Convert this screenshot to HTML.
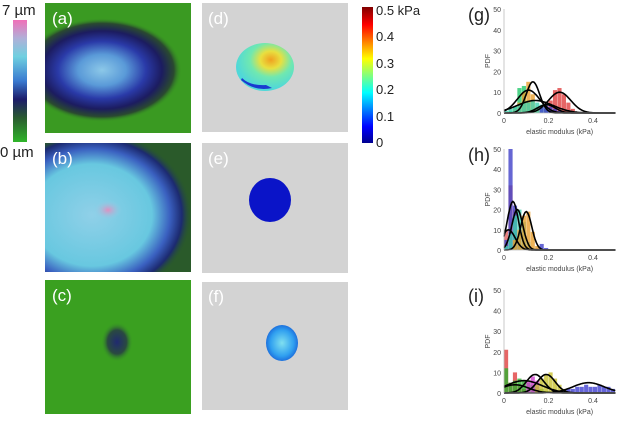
<!DOCTYPE html>
<html><head><meta charset="utf-8"><style>
body{margin:0;width:622px;height:422px;background:#fff;overflow:hidden;font-family:"Liberation Sans",sans-serif}
svg{position:absolute;left:0;top:0}
</style></head><body>
<svg width="622" height="422">
<defs>
<clipPath id="ca"><rect x="45" y="3" width="146" height="130"/></clipPath>
<clipPath id="cb"><rect x="45" y="143" width="146" height="129"/></clipPath>
<linearGradient id="hbar" x1="0" y1="1" x2="0" y2="0">
<stop offset="0" stop-color="#2fb52a"/><stop offset="0.2" stop-color="#2a5a30"/><stop offset="0.35" stop-color="#1c1c6a"/><stop offset="0.5" stop-color="#3a7ad0"/><stop offset="0.7" stop-color="#6fd0e0"/><stop offset="0.85" stop-color="#b0b0d8"/><stop offset="1" stop-color="#f070b8"/></linearGradient>
<linearGradient id="kbar" x1="0" y1="1" x2="0" y2="0">
<stop offset="0" stop-color="#00008f"/><stop offset="0.12" stop-color="#0000ff"/><stop offset="0.37" stop-color="#00ffff"/><stop offset="0.62" stop-color="#ffff00"/><stop offset="0.87" stop-color="#ff0000"/><stop offset="1" stop-color="#800000"/></linearGradient>
<radialGradient id="ga" cx="0.5" cy="0.5" r="0.5"><stop offset="0" stop-color="#8cc8e8"/><stop offset="0.3" stop-color="#5a9ad8"/><stop offset="0.55" stop-color="#2a3aa8"/><stop offset="0.75" stop-color="#1c1c60"/><stop offset="0.9" stop-color="#2a4a30"/><stop offset="1" stop-color="#3a9a22" stop-opacity="0"/></radialGradient>
<radialGradient id="gb" cx="0.5" cy="0.5" r="0.5"><stop offset="0" stop-color="#90d0e8"/><stop offset="0.6" stop-color="#68c8e0"/><stop offset="0.78" stop-color="#3a60c0"/><stop offset="0.9" stop-color="#1c2a70"/><stop offset="1" stop-color="#2a5a2a" stop-opacity="0"/></radialGradient>
<radialGradient id="gp" cx="0.5" cy="0.5" r="0.5"><stop offset="0" stop-color="#e090c0"/><stop offset="1" stop-color="#90d0e8" stop-opacity="0"/></radialGradient>
<radialGradient id="gc" cx="0.5" cy="0.5" r="0.5"><stop offset="0" stop-color="#202a70"/><stop offset="0.6" stop-color="#2a4a40"/><stop offset="1" stop-color="#3aa020" stop-opacity="0"/></radialGradient>
<radialGradient id="gd" cx="0.6" cy="0.35" r="0.6"><stop offset="0" stop-color="#f0a020"/><stop offset="0.3" stop-color="#e8e040"/><stop offset="0.6" stop-color="#70e8b0"/><stop offset="1" stop-color="#50d8d8"/></radialGradient>
<radialGradient id="gf" cx="0.5" cy="0.5" r="0.6"><stop offset="0" stop-color="#80e0f0"/><stop offset="0.6" stop-color="#30a0f0"/><stop offset="1" stop-color="#1050d0"/></radialGradient>
</defs>
<g>
<rect x="13" y="20" width="14" height="122" fill="url(#hbar)"/>
<text x="2" y="15" font-size="15" fill="#222">7 µm</text>
<text x="0" y="157" font-size="15" fill="#222">0 µm</text>
</g>
<g clip-path="url(#ca)">
<rect x="45" y="3" width="146" height="130" fill="#3a9a22"/>
<ellipse cx="102" cy="70" rx="80" ry="52" fill="url(#ga)"/>
<text x="52" y="24" font-size="17" fill="#fff">(a)</text></g>
<g clip-path="url(#cb)">
<rect x="45" y="143" width="146" height="129" fill="#2a5a2a"/>
<ellipse cx="92" cy="215" rx="100" ry="85" fill="url(#gb)"/>
<ellipse cx="108" cy="210" rx="14" ry="10" fill="url(#gp)"/>
<text x="52" y="164" font-size="17" fill="#fff">(b)</text></g>
<g>
<rect x="45" y="280" width="146" height="134" fill="#3aa020"/>
<ellipse cx="117" cy="342" rx="16" ry="20" fill="url(#gc)"/>
<text x="52" y="301" font-size="17" fill="#fff">(c)</text></g>
<g>
<rect x="202" y="3" width="146" height="129" fill="#d3d3d3"/>
<ellipse cx="265" cy="67" rx="29" ry="24" fill="url(#gd)"/>
<path d="M241 80 Q255 92 272 88 L266 85 Q250 86 242 78Z" fill="#1a3ad0"/>
<text x="208" y="24" font-size="17" fill="#fff">(d)</text></g>
<g>
<rect x="202" y="143" width="146" height="130" fill="#d3d3d3"/>
<ellipse cx="270" cy="200" rx="21" ry="22" fill="#0a14c8"/>
<text x="208" y="164" font-size="17" fill="#fff">(e)</text></g>
<g>
<rect x="202" y="282" width="146" height="128" fill="#d3d3d3"/>
<ellipse cx="282" cy="343" rx="16" ry="18" fill="url(#gf)"/>
<text x="208" y="302" font-size="17" fill="#fff">(f)</text></g>
<g>
<rect x="362" y="7" width="11" height="136" fill="url(#kbar)"/>
<g font-size="13" fill="#222">
<text x="376" y="15">0.5 kPa</text><text x="376" y="41">0.4</text><text x="376" y="68">0.3</text>
<text x="376" y="94">0.2</text><text x="376" y="121">0.1</text><text x="376" y="147">0</text></g></g>
<g id="hists"></g>
</svg>
<script>
const binW = 0.02;
const gSeries = [
 {color:"#22c86a", bins:[0,1,3,12,13,6,2,0]},
 {color:"#e8a030", bins:[0,0,2,5,10,15,9,3,0]},
 {color:"#e04040", bins:[0,0,0,0,0,0,0,0,0,2,6,11,12,9,5,2,0]},
 {color:"#40d0b0", bins:[1,2,3,4,5,5,6,5,4,2,1]},
 {color:"#4040c8", bins:[0,0,0,0,0,0,0,0,3,4,3,2,1]}
];
const gFits = [[0.13,0.03,15],[0.25,0.05,10],[0.11,0.05,11],[0.14,0.08,6],[0.19,0.04,4]];
const hSeries = [
 {color:"#e06060", bins:[10,32,20,8,2]},
 {color:"#4040c8", bins:[5,50,22,6,2,0,1,1,3,1]},
 {color:"#40d0b0", bins:[2,8,17,20,14,4,1]},
 {color:"#e8a030", bins:[0,0,5,10,17,19,9,2]}
];
const hFits = [[0.04,0.025,24],[0.06,0.025,20],[0.1,0.025,19],[0.02,0.03,10]];
const iSeries = [
 {color:"#e04040", bins:[21,5,10,4,2]},
 {color:"#30b030", bins:[12,5,6,7,6,5,4,3,2,1]},
 {color:"#d040d0", bins:[0,0,0,0,0,6,8,6]},
 {color:"#c8c030", bins:[0,0,0,0,0,0,0,4,7,9,10,7,4,2]},
 {color:"#4040d0", bins:[0,0,0,0,0,0,0,0,0,0,0,0,0,1,2,2,3,3,4,3,3,4,3,3,2]}
];
const iFits = [[0.38,0.07,5],[0.19,0.04,9],[0.14,0.04,9],[0.09,0.08,6],[0.05,0.06,4]];
const yTicks = [0,10,20,30,40,50];
const xTicks = [0,0.2,0.4];
const panels = [
 {label:"(g)", y0:113, y50:9, series:gSeries, fits:gFits},
 {label:"(h)", y0:250, y50:149, series:hSeries, fits:hFits},
 {label:"(i)", y0:393, y50:290, series:iSeries, fits:iFits}
];
const NS="http://www.w3.org/2000/svg";
const root=document.getElementById('hists');
const X0=504, X04=593;
function mk(t,a,p){const e=document.createElementNS(NS,t);for(const k in a)e.setAttribute(k,a[k]);(p||root).appendChild(e);return e;}
panels.forEach((P,pi)=>{
 const sx=v=>X0+v*(X04-X0)/0.4, sy=v=>P.y0+v*(P.y50-P.y0)/50;
 const g=mk('g',{});
 
 
 const lt=mk('text',{x:sx(0)-36,y:sy(50)+12,'font-size':18,fill:'#222'},g);lt.textContent=P.label;
 
 P.series.forEach(s=>{s.bins.forEach((b,i)=>{if(!b)return;
  const r=mk('rect',{x:sx(i*binW),y:sy(b),width:sx(binW)-sx(0)-0.3,height:sy(0)-sy(b),fill:s.color,opacity:0.8},g);
  });});
 P.fits.forEach(f=>{let d='';for(let v=0;v<=0.5001;v+=0.005){const y=f[2]*Math.exp(-((v-f[0])**2)/(2*f[1]*f[1]));d+=(v?'L':'M')+sx(v).toFixed(1)+' '+sy(y).toFixed(1);}
  const p=mk('path',{d:d,fill:'none',stroke:'#000','stroke-width':1.6},g);
  });
 mk('line',{x1:sx(0),y1:sy(0),x2:sx(0.5),y2:sy(0),stroke:'#bbb','stroke-width':0.8},g);
 mk('line',{x1:sx(0),y1:sy(0),x2:sx(0),y2:sy(50),stroke:'#bbb','stroke-width':0.8},g);
 yTicks.forEach(t=>{const e=mk('text',{x:sx(0)-3,y:sy(t)+3,'font-size':7,fill:'#444','text-anchor':'end'},g);e.textContent=t;});
 xTicks.forEach(t=>{const e=mk('text',{x:sx(t),y:sy(0)+10,'font-size':7,fill:'#444','text-anchor':'middle'},g);e.textContent=t;});
 const xl=mk('text',{x:sx(0.25),y:sy(0)+21,'font-size':7,fill:'#444','text-anchor':'middle'},g);xl.textContent='elastic modulus (kPa)';
 
 const yl=mk('text',{x:0,y:0,'font-size':7,fill:'#444','text-anchor':'middle',transform:`translate(${sx(0)-14},${sy(25)}) rotate(-90)`},g);yl.textContent='PDF';
 
});
</script>
</body></html>
